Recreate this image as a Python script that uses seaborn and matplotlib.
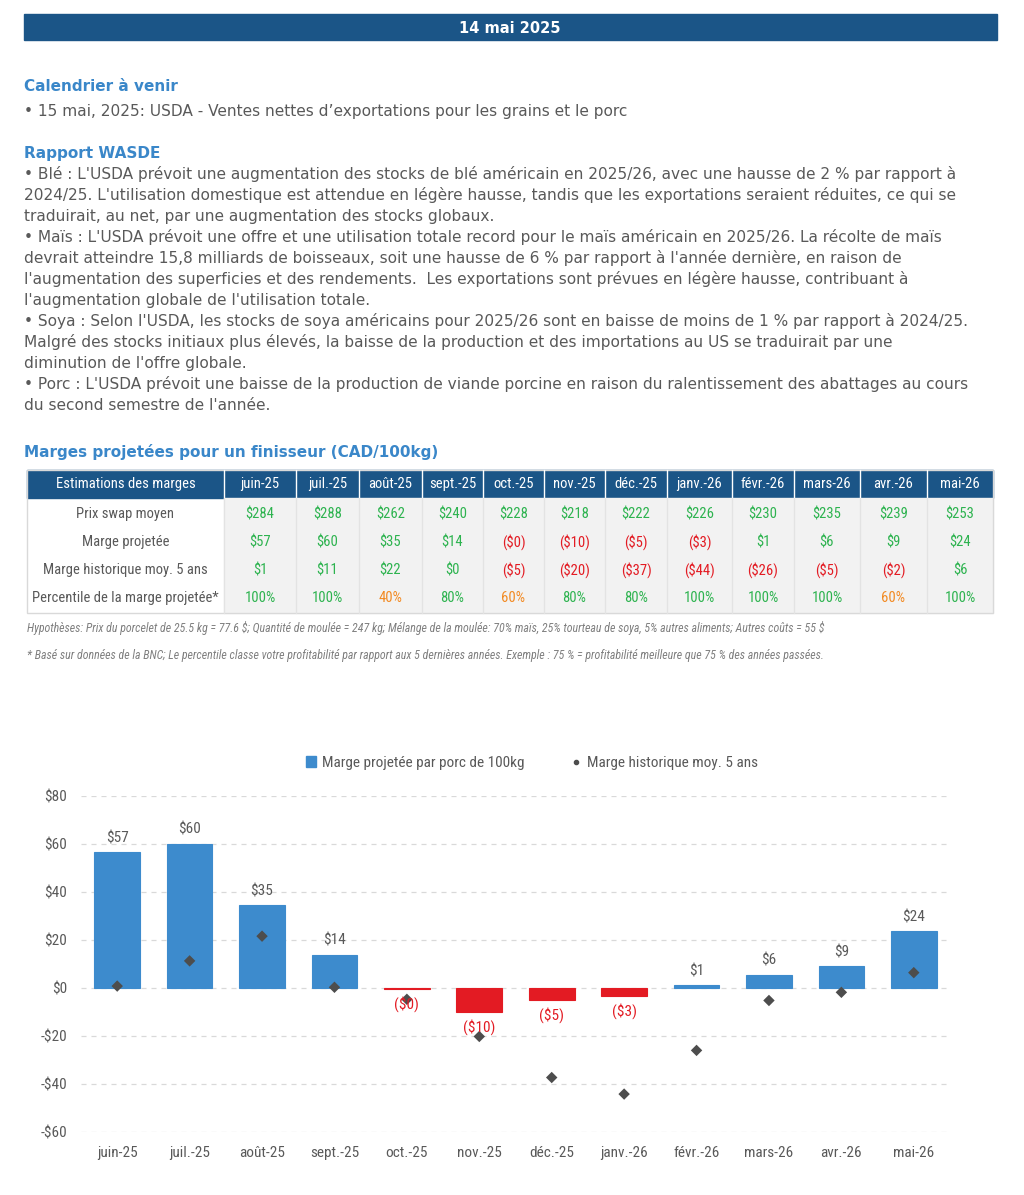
import matplotlib
matplotlib.use("Agg")
import matplotlib.pyplot as plt
from matplotlib.patches import Rectangle, Patch
from matplotlib.lines import Line2D
import seaborn as sns
import pandas as pd

# =========================
# DONNEES
# =========================
mois = ["juin-25", "juil.-25", "août-25", "sept.-25", "oct.-25", "nov.-25",
        "déc.-25", "janv.-26", "févr.-26", "mars-26", "avr.-26", "mai-26"]
prix_swap = [284, 288, 262, 240, 228, 218, 222, 226, 230, 235, 239, 253]
marge_projetee = [56.6, 60.2, 34.6, 13.8, -0.45, -10.2, -5.1, -3.2, 1.2, 5.6, 9.1, 23.6]
marge_hist = [0.8, 11.3, 21.6, 0.3, -4.7, -20.2, -37.3, -44.2, -26.0, -5.2, -1.8, 6.4]
percentile = [100, 100, 40, 80, 60, 80, 80, 100, 100, 100, 60, 100]
y_ticks = [-60, -40, -20, 0, 20, 40, 60, 80]

lignes_calendrier = ["• 15 mai, 2025: USDA - Ventes nettes d’exportations pour les grains et le porc"]
lignes_wasde = [
    "• Blé : L'USDA prévoit une augmentation des stocks de blé américain en 2025/26, avec une hausse de 2 % par rapport à",
    "2024/25. L'utilisation domestique est attendue en légère hausse, tandis que les exportations seraient réduites, ce qui se",
    "traduirait, au net, par une augmentation des stocks globaux.",
    "• Maïs : L'USDA prévoit une offre et une utilisation totale record pour le maïs américain en 2025/26. La récolte de maïs",
    "devrait atteindre 15,8 milliards de boisseaux, soit une hausse de 6 % par rapport à l'année dernière, en raison de",
    "l'augmentation des superficies et des rendements.  Les exportations sont prévues en légère hausse, contribuant à",
    "l'augmentation globale de l'utilisation totale.",
    "• Soya : Selon l'USDA, les stocks de soya américains pour 2025/26 sont en baisse de moins de 1 % par rapport à 2024/25.",
    "Malgré des stocks initiaux plus élevés, la baisse de la production et des importations au US se traduirait par une",
    "diminution de l'offre globale.",
    "• Porc : L'USDA prévoit une baisse de la production de viande porcine en raison du ralentissement des abattages au cours",
    "du second semestre de l'année.",
]
lignes_notes = [
    "Hypothèses: Prix du porcelet de 25.5 kg = 77.6 $; Quantité de moulée = 247 kg; Mélange de la moulée: 70% maïs, "
    "25% tourteau de soya, 5% autres aliments; Autres coûts = 55 $",
    "* Basé sur données de la BNC; Le percentile classe votre profitabilité par rapport aux 5 dernières années. "
    "Exemple : 75 % = profitabilité meilleure que 75 % des années passées.",
]

# =========================
# STYLE
# =========================
W, H = 1024, 1195
BLEU_FONCE = "#1b5587"
BLEU_TITRE = "#3a87c9"
BLEU_BARRE = "#3d8bcd"
ROUGE = "#e31b23"
GRIS = "#595959"
VERT = "#2db34f"
ORANGE = "#f28a22"
COND = ["Roboto Condensed", "DejaVu Sans"]

sns.set_style("white")
plt.rcParams["font.family"] = ["DejaVu Sans"]
plt.rcParams["text.parse_math"] = False


def dollars(v):
    r = int(round(v))
    if v < 0:
        return f"(${abs(r)})"
    return f"${r}"


fig = plt.figure(figsize=(W / 100, H / 100), dpi=100)
page = fig.add_axes([0, 0, 1, 1])
page.set_xlim(0, W)
page.set_ylim(H, 0)
page.axis("off")

# bandeau
page.add_patch(Rectangle((24, 14), 973, 26, color=BLEU_FONCE))
page.text(510, 28, "14 mai 2025", color="white", fontsize=10.5, fontweight="bold",
          ha="center", va="center")

page.text(24, 86, "Calendrier à venir", color=BLEU_TITRE, fontsize=11,
          fontweight="bold", va="center")
for i, l in enumerate(lignes_calendrier):
    page.text(24, 111 + 21 * i, l, color=GRIS, fontsize=11.1, va="center")

page.text(24, 153, "Rapport WASDE", color=BLEU_TITRE, fontsize=11,
          fontweight="bold", va="center")
for i, l in enumerate(lignes_wasde):
    page.text(24, 174 + 21 * i, l, color=GRIS, fontsize=11.1, va="center")

page.text(24, 452, "Marges projetées pour un finisseur (CAD/100kg)", color=BLEU_TITRE,
          fontsize=11, fontweight="bold", va="center")

# =========================
# TABLEAU
# =========================
bords = [27, 224, 296, 359, 422, 483, 544, 605, 667, 732, 794, 860, 927, 993]
page.add_patch(Rectangle((bords[0], 470), bords[-1] - bords[0], 28, color=BLEU_FONCE))
page.add_patch(Rectangle((bords[1], 498), bords[-1] - bords[1], 115, color="#f2f2f2"))
page.add_patch(Rectangle((bords[0], 470), bords[-1] - bords[0], 143, fill=False,
                         edgecolor="#d9d9d9", lw=1))
for x in bords[1:-1]:
    page.plot([x, x], [470, 498], color="white", lw=1)
    page.plot([x, x], [498, 613], color="#e3e3e3", lw=1)

cond = dict(fontsize=10.5, family=COND, ha="center", va="center")
page.text((bords[0] + bords[1]) / 2, 484, "Estimations des marges", color="white", **cond)
etiquettes = ["Prix swap moyen", "Marge projetée", "Marge historique moy. 5 ans",
              "Percentile de la marge projetée*"]
rangs_y = [514, 542, 570, 598]
for lab, y in zip(etiquettes, rangs_y):
    page.text((bords[0] + bords[1]) / 2, y, lab, color=GRIS, **cond)

for j, m in enumerate(mois):
    xc = (bords[j + 1] + bords[j + 2]) / 2
    page.text(xc, 484, m, color="white", **cond)
    page.text(xc, rangs_y[0], dollars(prix_swap[j]), color=VERT, **cond)
    for v, y in [(marge_projetee[j], rangs_y[1]), (marge_hist[j], rangs_y[2])]:
        page.text(xc, y, dollars(v), color=ROUGE if v < 0 else VERT, **cond)
    p = percentile[j]
    page.text(xc, rangs_y[3], f"{p}%", color=VERT if p >= 80 else ORANGE, **cond)

for l, y in zip(lignes_notes, [628, 655]):
    page.text(27, y, l, color="#7f7f7f", fontsize=8.6, style="italic",
              family=COND, va="center")

# =========================
# GRAPHIQUE
# =========================
ax = fig.add_axes([81 / W, 1 - 1132 / H, (950 - 81) / W, (1132 - 796) / H])
df = pd.DataFrame({"mois": mois, "marge": marge_projetee, "hist": marge_hist})
df["signe"] = ["neg" if v < 0 else "pos" for v in df["marge"]]

sns.barplot(data=df, x="mois", y="marge", hue="signe",
            palette={"pos": BLEU_BARRE, "neg": ROUGE}, dodge=False, legend=False,
            width=0.63, saturation=1, ax=ax, zorder=2)
for b in ax.patches:
    b.set_edgecolor(b.get_facecolor())
    b.set_linewidth(0.8)
sns.scatterplot(data=df, x="mois", y="hist", marker="D", s=34, color="#4d4d4d",
                edgecolor="none", ax=ax, zorder=3)

for i, v in enumerate(marge_projetee):
    if v >= 0:
        ax.annotate(dollars(v), (i, v), xytext=(0, 5), textcoords="offset points",
                    ha="center", va="bottom", color=GRIS, fontsize=11, family=COND)
    else:
        ax.annotate(dollars(v), (i, v), xytext=(0, -5), textcoords="offset points",
                    ha="center", va="top", color=ROUGE, fontsize=11, family=COND)

ax.set_ylim(-60, 80)
ax.set_xlim(-0.5, len(mois) - 0.5)
ax.set_yticks(y_ticks)
ax.set_yticklabels([f"${t}" if t >= 0 else f"-${-t}" for t in y_ticks])
ax.yaxis.grid(True, ls=(0, (4, 4)), color="#d9d9d9", lw=0.9)
ax.set_axisbelow(True)
ax.set_xlabel("")
ax.set_ylabel("")
sns.despine(ax=ax, left=True, bottom=True)
ax.tick_params(length=0, labelcolor=GRIS, labelsize=11, pad=10)
for t in ax.get_xticklabels() + ax.get_yticklabels():
    t.set_family(COND)

poignees = [Patch(color=BLEU_BARRE),
            Line2D([], [], marker="o", ls="none", color="#4d4d4d", markersize=3)]
fig.legend(poignees, ["Marge projetée par porc de 100kg", "Marge historique moy. 5 ans"],
           loc="center", bbox_to_anchor=(532 / W, 1 - 763 / H), ncol=2, frameon=False,
           prop={"family": COND, "size": 11}, labelcolor=GRIS, handlelength=0.7,
           handletextpad=0.4, columnspacing=3.0)

fig.savefig("out.png", dpi=100)
